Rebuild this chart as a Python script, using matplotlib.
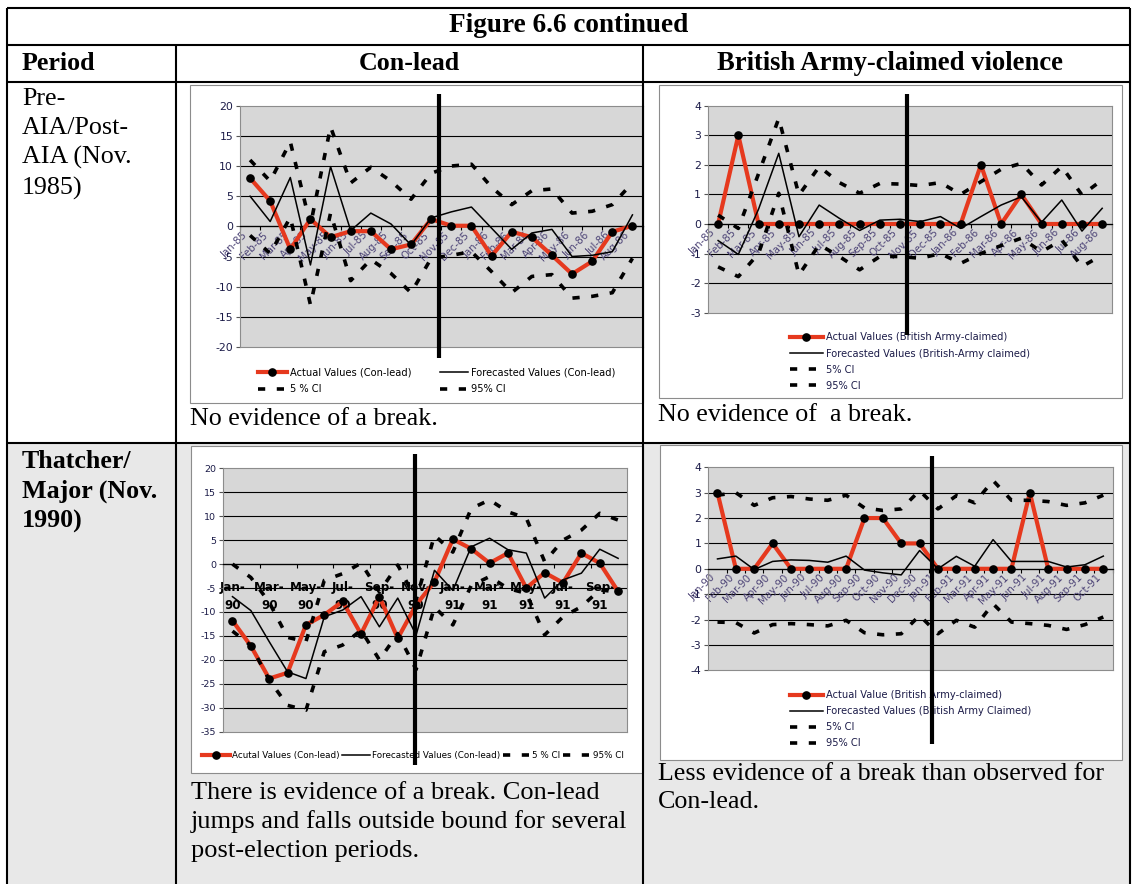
"""
Figure 6.6 continued: forecast-break checks for Con-lead and British Army-claimed violence.
"""

import matplotlib
matplotlib.use("Agg")
import numpy as np
import matplotlib.pyplot as plt
from matplotlib.lines import Line2D
from matplotlib.patches import Rectangle
from matplotlib.transforms import ScaledTranslation

plt.rcParams["axes.unicode_minus"] = False

W, H = 1135, 884

# ---- data ----
months_85 = ["Jan-85", "Feb-85", "Mar-85", "Apr-85", "May-85", "Jun-85", "Jul-85",
             "Aug-85", "Sep-85", "Oct-85", "Nov-85", "Dec-85", "Jan-86", "Feb-86",
             "Mar-86", "Apr-86", "May-86", "Jun-86", "Jul-86", "Aug-86"]
months_90 = ["Jan-90", "Feb-90", "Mar-90", "Apr-90", "May-90", "Jun-90", "Jul-90",
             "Aug-90", "Sep-90", "Oct-90", "Nov-90", "Dec-90", "Jan-91", "Feb-91",
             "Mar-91", "Apr-91", "May-91", "Jun-91", "Jul-91", "Aug-91", "Sep-91", "Oct-91"]

conlead_85_actual = [8.0, 4.2, -3.8, 1.2, -1.8, -0.8, -0.8, -3.8, -3.0, 1.2,
                     0.1, 0.1, -4.9, -0.9, -1.8, -4.8, -7.9, -5.8, -0.9, 0.1]
conlead_85_forecast = [5.0, 0.8, 8.1, -6.4, 9.9, -0.7, 2.2, 0.4, -3.1, 1.4,
                       2.4, 3.2, -0.3, -3.8, -1.1, -0.5, -5.0, -4.8, -4.2, 1.9]
conlead_85_ci5 = [-1.5, -4.5, 1.5, -13.0, 2.2, -9.0, -5.5, -7.8, -11.0, -5.3,
                  -4.8, -4.2, -7.5, -11.0, -8.3, -8.0, -11.9, -11.6, -11.0, -5.3]
conlead_85_ci95 = [11.0, 7.5, 14.0, 0.2, 16.5, 7.2, 9.8, 7.5, 4.5, 8.8,
                   10.0, 10.3, 6.5, 3.6, 5.9, 6.2, 2.2, 2.5, 3.6, 7.2]

army_85_actual = [0, 3, 0, 0, 0, 0, 0, 0, 0, 0, 0, 0, 0, 2, 0, 1, 0, 0, 0, 0]
army_85_forecast = [-0.56, -1.03, 0.5, 2.39, -0.43, 0.64, 0.19, -0.22, 0.13, 0.16,
                    0.08, 0.25, -0.15, 0.25, 0.64, 0.92, 0.06, 0.81, -0.24, 0.53]
army_85_ci5 = [-1.45, -1.78, -1.0, 1.04, -1.72, -0.7, -1.1, -1.55, -1.1, -1.1,
               -1.16, -1.0, -1.33, -1.0, -0.73, -0.48, -0.94, -0.54, -1.44, -1.05]
army_85_ci95 = [0.3, -0.15, 1.7, 3.57, 0.98, 1.94, 1.4, 1.04, 1.37, 1.35,
                1.3, 1.4, 1.0, 1.43, 1.85, 2.05, 1.32, 1.94, 0.98, 1.49]

conlead_90_actual = [-11.8, -17.1, -23.9, -22.7, -12.7, -10.6, -7.8, -14.6, -6.8, -15.5, -8.5,
                     -3.7, 5.2, 3.2, 0.2, 2.3, -5.0, -1.8, -3.9, 2.3, 0.2, -5.7]
conlead_90_forecast = [-6.8, -9.7, -16.2, -22.5, -23.9, -11.0, -9.6, -6.8, -13.1, -7.1, -14.8,
                       -1.3, -5.5, 3.6, 5.4, 3.0, 2.3, -7.1, -3.3, -1.9, 3.1, 1.2]
conlead_90_ci5 = [-14.0, -17.0, -24.2, -29.5, -30.5, -18.3, -16.9, -13.8, -20.0, -14.5, -22.0,
                  -9.0, -12.7, -4.5, -2.6, -5.1, -6.1, -14.8, -11.0, -8.9, -5.4, -5.8]
conlead_90_ci95 = [0.0, -2.8, -8.0, -15.3, -16.2, -3.4, -2.0, 0.2, -5.8, -0.2, -7.5,
                   6.0, 2.5, 11.6, 13.4, 10.9, 9.6, 0.5, 5.0, 7.1, 10.6, 9.2]

army_90_actual = [3, 0, 0, 1, 0, 0, 0, 0, 2, 2, 1, 1, 0, 0, 0, 0, 0, 3, 0, 0, 0, 0]
army_90_forecast = [0.39, 0.5, -0.03, 0.29, 0.35, 0.33, 0.26, 0.5, -0.05, -0.16, -0.24,
                    0.72, 0.0, 0.49, 0.1, 1.15, 0.29, 0.29, 0.29, 0.07, 0.16, 0.5]
army_90_ci5 = [-2.1, -2.12, -2.53, -2.2, -2.16, -2.2, -2.25, -2.03, -2.52, -2.6, -2.56,
               -1.84, -2.56, -2.03, -2.3, -1.38, -2.1, -2.16, -2.23, -2.39, -2.2, -1.9]
army_90_ci95 = [2.9, 3.0, 2.5, 2.8, 2.85, 2.75, 2.7, 2.9, 2.4, 2.3, 2.36,
                3.08, 2.36, 2.88, 2.6, 3.48, 2.7, 2.7, 2.65, 2.5, 2.6, 2.9]

RED = "#e6391e"
SERIF = ["Liberation Serif", "DejaVu Serif"]
TABLE_FS = 18.7

fig = plt.figure(figsize=(W / 100, H / 100), dpi=100)


def fx(x):
    return x / W


def fy(y):
    return 1 - y / H


def rect(x0, y0, x1, y1, **kw):
    fig.add_artist(Rectangle((fx(x0), fy(y1)), (x1 - x0) / W, (y1 - y0) / H,
                             transform=fig.transFigure, **kw))


def fline(xs, ys, lw=1.5, z=5):
    fig.add_artist(Line2D([fx(v) for v in xs], [fy(v) for v in ys],
                          transform=fig.transFigure, color="black", lw=lw,
                          solid_capstyle="butt", zorder=z))


def ftext(x, y, s, **kw):
    kw.setdefault("family", SERIF)
    kw.setdefault("fontsize", TABLE_FS)
    fig.text(fx(x), fy(y), s, transform=fig.transFigure, **kw)


# ---- table ----
rect(7, 443, 1130, 884, facecolor="#e8e8e8", edgecolor="none", zorder=-10)
for y in (8, 45, 82, 443):
    fline([7, 1130], [y, y])
for x in (7, 1130):
    fline([x, x], [8, 884])
for x in (176, 643):
    fline([x, x], [45, 884])

ftext(569, 26, "Figure 6.6 continued", ha="center", va="center", weight="bold", fontsize=19.6)
ftext(22, 63, "Period", ha="left", va="center", weight="bold")
ftext(409, 63, "Con-lead", ha="center", va="center", weight="bold")
ftext(890, 63, "British Army-claimed violence", ha="center", va="center", weight="bold",
      fontsize=19.2)
ftext(22, 88, "Pre-\nAIA/Post-\nAIA (Nov.\n1985)", ha="left", va="top", linespacing=1.41)
ftext(22, 450, "Thatcher/\nMajor (Nov.\n1990)", ha="left", va="top", weight="bold",
      linespacing=1.37)
ftext(190, 408, "No evidence of a break.", ha="left", va="top")
ftext(658, 404, "No evidence of  a break.", ha="left", va="top")
ftext(191, 782, "There is evidence of a break. Con-lead\njumps and falls outside bound for several\n"
      "post-election periods.", ha="left", va="top", linespacing=1.36, fontsize=19.0)
ftext(658, 763, "Less evidence of a break than observed for\nCon-lead.", ha="left", va="top",
      linespacing=1.38)

# chart frames
for box in ((190, 85, 643, 403), (659, 85, 1122, 398), (191, 446, 643, 773), (660, 445, 1122, 760)):
    rect(*box, facecolor="white", edgecolor="#8c8c8c", lw=0.8, zorder=-5)


def panel(area, labels, actual, forecast, ci5, ci95, yticks, names, every=1, small=False):
    """Draw one Excel-style forecast chart inside `area` (pixel box l, t, r, b)."""
    l, t, r, b = area
    ax = fig.add_axes([fx(l), fy(b), (r - l) / W, (b - t) / H])
    x = np.arange(len(labels))
    ax.set_facecolor("#d7d7d7")
    for v in yticks[1:-1]:
        ax.axhline(v, color="black", lw=0.8, zorder=1)
    dash = (0, (2.0, 3.2))
    h_act, = ax.plot(x, actual, color=RED, lw=3.0, marker="o", ms=5.2,
                     mfc="black", mec="black", zorder=3, label=names[0])
    h_fc, = ax.plot(x, forecast, color="black", lw=1.1, zorder=4, label=names[1])
    h_lo, = ax.plot(x, ci5, color="black", lw=2.6, ls=dash, zorder=4, label=names[2])
    h_hi, = ax.plot(x, ci95, color="black", lw=2.6, ls=dash, zorder=4, label=names[3])

    ax.set_xlim(-0.5, len(labels) - 0.5)
    ax.set_ylim(yticks[0], yticks[-1])
    ax.set_yticks(yticks)
    ax.tick_params(axis="y", length=3, width=0.8, color="#555555", pad=2,
                   labelsize=6.8 if small else 7.8, labelcolor="#1b1b48")
    for s in ("left", "top", "right"):
        ax.spines[s].set_color("#8c8c8c")
        ax.spines[s].set_linewidth(0.8)
    ax.spines["bottom"].set_position(("data", 0))
    ax.spines["bottom"].set_linewidth(0.9)
    ax.axhline(yticks[0], color="#8c8c8c", lw=0.8, clip_on=False)

    ax.set_xticks(x[::every])
    ax.set_xticks(np.arange(0, len(labels) + 1, every) - 0.5, minor=True)
    ax.tick_params(axis="x", which="minor", length=3, width=0.8, direction="out")
    if small:
        ax.set_xticklabels([s.replace("-", "-\n") for s in labels[::every]],
                           fontsize=9.5, weight="bold", family="DejaVu Sans",
                           stretch="condensed", linespacing=1.5)
        ax.tick_params(axis="x", which="major", length=0, pad=12)
    else:
        ax.set_xticklabels(labels, rotation=45, ha="right", va="center",
                           rotation_mode="anchor", fontsize=7.3, color="#4b4275")
        ax.tick_params(axis="x", which="major", length=0, pad=5)
        shift = ScaledTranslation(-3 / 72, 0, fig.dpi_scale_trans)
        for lab in ax.get_xticklabels():
            lab.set_transform(lab.get_transform() + shift)
    return ax, [h_act, h_fc, h_lo, h_hi]


# chart 1: Con-lead, AIA
ax1, hs = panel((240, 105.7, 642.5, 347), months_85, conlead_85_actual, conlead_85_forecast,
                conlead_85_ci5, conlead_85_ci95, list(range(-20, 21, 5)),
                ["Actual Values (Con-lead)", "Forecasted Values (Con-lead)", "5 % CI", "95% CI"])
order = [hs[0], hs[2], hs[1], hs[3]]
ax1.legend(order, [h.get_label() for h in order],
           ncol=2, loc="upper left", bbox_to_anchor=(fx(258), fy(367)),
           bbox_transform=fig.transFigure, frameon=False, fontsize=7.1, borderpad=0,
           borderaxespad=0, handlelength=2.9, handletextpad=0.3, columnspacing=2.9,
           labelspacing=0.75)

# chart 2: British Army, AIA
ax2, hs = panel((708, 105.7, 1112.3, 312.7), months_85, army_85_actual, army_85_forecast,
                army_85_ci5, army_85_ci95, list(range(-3, 5)),
                ["Actual Values (British Army-claimed)", "Forecasted Values (British-Army claimed)",
                 "5% CI", "95% CI"])
ax2.legend(hs, [h.get_label() for h in hs], loc="upper left",
           bbox_to_anchor=(fx(790), fy(332.5)), bbox_transform=fig.transFigure,
           frameon=False, fontsize=7.1, borderpad=0, borderaxespad=0, handlelength=3.3,
           handletextpad=0.3, labelspacing=0.62, labelcolor="#1b1b48")

# chart 3: Con-lead, Thatcher/Major
ax3, hs = panel((223.3, 468.3, 627.3, 731.7), months_90, conlead_90_actual, conlead_90_forecast,
                conlead_90_ci5, conlead_90_ci95, list(range(-35, 21, 5)),
                ["Acutal Values (Con-lead)", "Forecasted Values (Con-lead)", "5 % CI", "95% CI"],
                every=2, small=True)
ax3.legend(hs, [h.get_label() for h in hs], ncol=4, loc="upper left",
           bbox_to_anchor=(fx(202), fy(751)), bbox_transform=fig.transFigure,
           frameon=False, fontsize=6.3, borderpad=0, borderaxespad=0, handlelength=3.2,
           handletextpad=0.2, columnspacing=0.3)

# chart 4: British Army, Thatcher/Major
ax4, hs = panel((708.3, 467.3, 1112.5, 670.3), months_90, army_90_actual, army_90_forecast,
                army_90_ci5, army_90_ci95, list(range(-4, 5)),
                ["Actual Value (British Army-claimed)", "Forecasted Values (British Army Claimed)",
                 "5% CI", "95% CI"])
ax4.legend(hs, [h.get_label() for h in hs], loc="upper left",
           bbox_to_anchor=(fx(790), fy(690)), bbox_transform=fig.transFigure,
           frameon=False, fontsize=7.1, borderpad=0, borderaxespad=0, handlelength=3.3,
           handletextpad=0.3, labelspacing=0.62, labelcolor="#1b1b48")

# break markers
for bx, y0, y1 in ((439.3, 94, 357.7), (907.3, 94, 335), (415.3, 454, 765), (931.7, 456, 744)):
    fline([bx, bx], [y0, y1], lw=3.0, z=20)

fig.savefig("out.png", dpi=100)
